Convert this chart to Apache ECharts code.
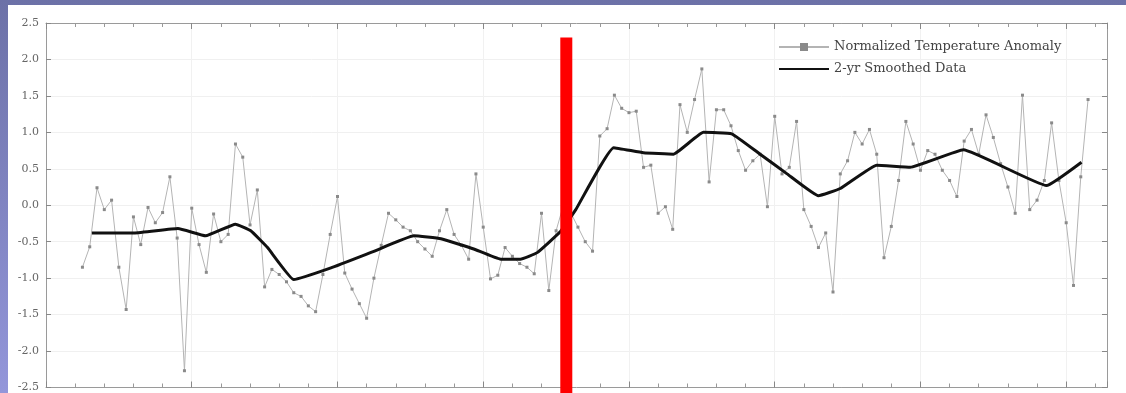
<!DOCTYPE html>
<html>
<head>
<meta charset="utf-8">
<script src="https://cdn.jsdelivr.net/npm/echarts@6/dist/echarts.min.js"></script>
<style>
  html, body { margin: 0; padding: 0; }
  body {
    width: 1126px; height: 393px; overflow: hidden; position: relative;
    background: linear-gradient(to bottom, #6c71a7, #9396da);
  }
  .panel { position: absolute; left: 8px; top: 5px; right: 0; bottom: 0; background: #fff; }
  #chart { position: absolute; left: 0; top: 0; width: 1126px; height: 393px; }
</style>
</head>
<body>
<div class="panel"></div>
<div id="chart"></div>
<script>
// yearly normalized anomaly (first year 1885)
var firstYear = 1885;
var anomaly = [
  -0.85, -0.57, 0.24, -0.06, 0.07, -0.85, -1.43, -0.16, -0.54, -0.03,
  -0.24, -0.10, 0.39, -0.45, -2.27, -0.04, -0.54, -0.92, -0.12, -0.50,
  -0.40, 0.84, 0.66, -0.27, 0.21, -1.12, -0.88, -0.95, -1.05, -1.20,
  -1.25, -1.38, -1.46, -0.95, -0.40, 0.12, -0.93, -1.15, -1.35, -1.55,
  -1.00, -0.55, -0.11, -0.20, -0.30, -0.35, -0.50, -0.60, -0.70, -0.35,
  -0.06, -0.40, -0.55, -0.74, 0.43, -0.30, -1.01, -0.96, -0.58, -0.70,
  -0.80, -0.85, -0.94, -0.11, -1.17, -0.35, 0.00, -0.10, -0.30, -0.50,
  -0.63, 0.95, 1.05, 1.51, 1.33, 1.27, 1.29, 0.52, 0.55, -0.11,
  -0.02, -0.33, 1.38, 1.00, 1.45, 1.87, 0.32, 1.31, 1.31, 1.09,
  0.75, 0.48, 0.61, 0.70, -0.02, 1.22, 0.43, 0.52, 1.15, -0.06,
  -0.29, -0.58, -0.38, -1.19, 0.43, 0.61, 1.00, 0.84, 1.04, 0.70,
  -0.72, -0.29, 0.34, 1.15, 0.84, 0.48, 0.75, 0.70, 0.48, 0.34,
  0.12, 0.88, 1.04, 0.70, 1.24, 0.93, 0.57, 0.25, -0.11, 1.51,
  -0.06, 0.07, 0.34, 1.13, 0.34, -0.24, -1.10, 0.39, 1.45
];

// 2-yr smoothed curve vertices
var smoothYears = [1886.3, 1892.1, 1898.1, 1901.9, 1906.0, 1908.1, 1910.4, 1914.0, 1919.1, 1924.8,
  1930.5, 1934.2, 1938.7, 1942.4, 1945.1, 1947.4, 1950.6, 1952.7, 1957.9, 1962.0,
  1966.1, 1970.2, 1974.1, 1978.0, 1981.7, 1986.0, 1989.0, 1994.0, 1998.6, 2005.9,
  2017.3, 2022.1];
var smoothValues = [-0.38, -0.38, -0.32, -0.42, -0.26, -0.35, -0.58, -1.02, -0.86, -0.64,
  -0.42, -0.46, -0.60, -0.74, -0.74, -0.65, -0.36, -0.06, 0.79, 0.72,
  0.70, 1.00, 0.98, 0.70, 0.43, 0.13, 0.23, 0.55, 0.52, 0.76,
  0.27, 0.59];

// red marker bar
var markerYear = 1951.4;
var markerTop = 2.3;

var seriesNames = ['Normalized Temperature Anomaly', '2-yr Smoothed Data'];

var anomalyData = anomaly.map(function (v, i) { return [firstYear + i, v]; });
var smoothData = smoothYears.map(function (y, i) { return [y, smoothValues[i]]; });

var myChart = echarts.init(document.getElementById('chart'));
var serif = 'DejaVu Serif';

var xCommon = {
  type: 'value', min: 1880, max: 2025.6, interval: 20,
  axisLine: { show: true, onZero: false, lineStyle: { color: '#9a9a9a', width: 1 } },
  axisTick: { show: true, inside: true, length: 6, lineStyle: { color: '#888' } },
  minorTick: { show: true, splitNumber: 5, length: 4, lineStyle: { color: '#999' } },
  axisLabel: { show: false },
  splitLine: { show: true, lineStyle: { color: '#f1f1f1' } }
};
var yCommon = {
  type: 'value', min: -2.5, max: 2.5, interval: 0.5,
  axisLine: { show: true, onZero: false, lineStyle: { color: '#9a9a9a', width: 1 } },
  axisTick: { show: true, inside: true, length: 5, lineStyle: { color: '#888' } },
  splitLine: { show: true, lineStyle: { color: '#f0f0f0' } }
};

var option = {
  animation: false,
  backgroundColor: 'transparent',
  grid: { left: 46, right: 19, top: 23, bottom: 4 },
  legend: {
    orient: 'vertical', left: 773, top: 35,
    itemWidth: 50, itemHeight: 10, itemGap: 8,
    textStyle: { fontFamily: serif, fontSize: 13, color: '#444', lineHeight: 14 },
    data: [
      { name: seriesNames[0] },
      { name: seriesNames[1], itemStyle: { opacity: 0 } }
    ]
  },
  xAxis: [
    Object.assign({}, xCommon, { position: 'bottom' }),
    Object.assign({}, xCommon, { position: 'top', splitLine: { show: false } })
  ],
  yAxis: [
    Object.assign({}, yCommon, {
      position: 'left',
      axisLabel: {
        show: true, fontFamily: serif, fontSize: 11, color: '#666', margin: 7,
        formatter: function (v) { return v.toFixed(1); }
      }
    }),
    Object.assign({}, yCommon, { position: 'right', axisLabel: { show: false }, splitLine: { show: false } })
  ],
  series: [
    {
      name: seriesNames[0], type: 'line', data: anomalyData,
      symbol: 'rect', symbolSize: 3, showSymbol: true,
      lineStyle: { color: '#b4b4b4', width: 1 },
      itemStyle: { color: '#8a8a8a' },
      z: 2
    },
    {
      name: seriesNames[1], type: 'line', data: smoothData,
      symbol: 'none', smooth: 0.1,
      lineStyle: { color: '#111', width: 3 },
      itemStyle: { color: '#111' },
      z: 3
    },
    {
      name: 'marker', type: 'line', data: [[markerYear, markerTop], [markerYear, -2.6]],
      symbol: 'none', clip: false,
      lineStyle: { color: '#ff0000', width: 12, cap: 'butt' },
      z: 10
    }
  ]
};

if (option && typeof option === 'object') {
  myChart.setOption(option, true);
}
</script>
</body>
</html>
